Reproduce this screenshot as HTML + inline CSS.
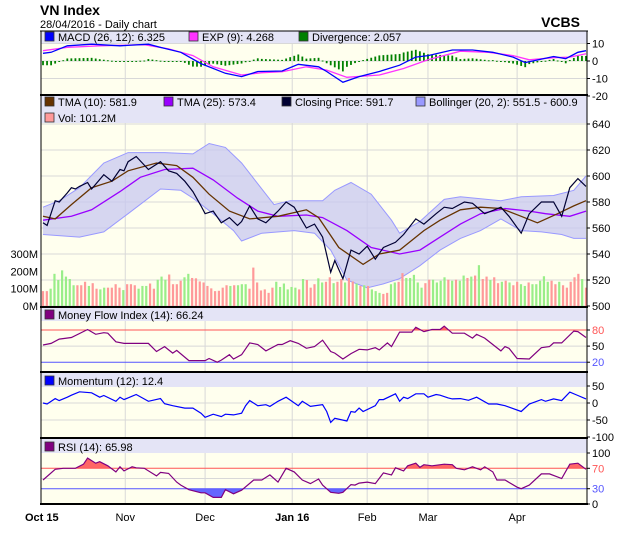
<!DOCTYPE html>
<html><head><meta charset="utf-8">
<style>
body{margin:0;background:#fff;font-family:"Liberation Sans",sans-serif;}
svg text{font-family:"Liberation Sans",sans-serif;}
</style></head>
<body>
<svg id="c" width="620" height="535" xmlns="http://www.w3.org/2000/svg"></svg>
<script>
// ---- data ----
const monthLabels=["Oct 15","Nov","Dec","Jan 16","Feb","Mar","Apr"];
const monthDays=[0,20.3,40,61.5,80,95,117];
const priceTicks=[500,520,540,560,580,600,620,640];
const volTicks=[0,100,200,300];
const macdTicks=[10,0,-10,-20];
const closeDays=[0,1,3,4,6,7,8,9,11,12,15,17,19,20,21,23,26,29,31,33,35,37,39,40,42,44,46,48,49,51,53,55,58,60,62,65,67,69,71,72,74,76,78,80,82,84,87,89,92,94,97,99,101,104,106,109,113,115,118,120,123,126,128,130,132,134];
const closeVals=[564,562,581,580,587,591,590,592,595,590,601,596,605,604,611,615,605,611,604,602,596,588,577,571,573,564,568,562,565,577,567,564,573,580,576,560,563,553,526,535,521,543,540,546,536,545,549,555,567,563,571,576,575,580,579,571,576,569,556,571,580,580,569,591,598,592];
const tma10Days=[0,3,7,12,17,21,28,33,37,41,46,51,58,65,68,73,79,83,88,94,98,103,108,113,118,122,127,131,134];
const tma10Vals=[569,567,578,591,596,604,610,608,599,586,573,567,569,574,568,545,532,540,543,558,566,574,576,575,569,564,571,577,581];
const tma25Days=[0,7,12,19,24,30,37,42,48,53,58,65,69,75,81,88,93,98,103,108,114,120,124,130,134];
const tma25Vals=[566,569,574,588,599,605,606,597,583,573,569,570,568,558,545,540,543,553,563,571,575,573,571,569,573];
const bbUpDays=[0,4,9,15,21,30,37,41,45,49,53,57,61,69,72,76,81,86,88,93,99,103,113,118,126,131,134];
const bbUpVals=[576,581,591,610,618,618,617,625,622,610,594,578,581,581,589,595,586,566,556,565,582,584,581,584,585,589,600];
const bbLoDays=[0,9,15,21,29,34,37,42,47,49,54,62,67,71,75,80,84,88,93,98,103,108,113,118,123,128,131,134];
const bbLoVals=[555,553,557,571,590,589,583,571,558,550,556,558,556,543,520,514,517,521,531,543,552,558,567,558,557,555,552,552];
const volVals=[86,86,100,186,150,206,170,156,120,120,120,140,116,132,100,96,106,106,106,126,106,92,126,126,120,100,116,116,130,100,152,170,152,182,126,126,146,166,186,162,160,142,136,116,102,86,88,106,120,116,120,120,126,126,100,222,136,90,96,76,106,140,110,130,96,110,106,96,156,150,106,126,160,136,140,166,132,140,156,136,162,142,130,116,120,116,96,86,76,70,76,126,136,140,190,162,162,180,136,106,132,152,152,136,146,166,152,146,152,146,176,162,170,176,236,156,170,150,166,132,140,146,136,120,140,126,116,136,126,126,146,172,140,146,126,140,120,106,140,166,186,156,106];
const volUp="rrgggggggrrrgrrggrrrrgrrrgggrrgggrrrrggrrrrrrrrrrgrgggrrrrrrrggggggrgrrrggrrgrrgrrgrgrgggrrggrrgggggrrggggrgrggrgrgrrgrrgrgrrggrgggggrrgrrrrrgrr";
const macdDays=[0,2,6,12,19,26,29,34,39,45,49,53,59,63,68,70,74,78,83,88,92,95,101,106,111,116,119,126,129,132,134];
const macdVals=[4.4,5,8.7,9.6,8.7,9.6,7.8,5,-1.5,-7,-8.9,-6,-5.7,-1.9,-3.3,-6,-12.2,-8.9,-6,-2.4,2.2,3.1,6.3,6.3,5,2.2,-0.9,2.6,1.3,5,5.9];
const sigDays=[0,6,14,25,31,37,42,49,54,59,65,70,75,83,89,95,103,110,116,120,126,130,134];
const sigVals=[5.9,7.8,8.7,9.3,6.9,3.1,-3.3,-8,-6.7,-6.1,-3.3,-5.2,-9.3,-8,-4.3,0.7,5.6,5,3.1,0.7,1.9,2.2,4.1];
const mfiDays=[0,2,4,7,11,13,15,16,18,20,26,28,30,32,33,36,40,41,43,44,46,47,49,51,53,55,58,59,61,63,65,67,69,71,72,74,76,78,80,82,83,85,86,88,91,92,94,96,98,99,101,104,106,107,109,113,114,115,117,120,123,125,126,128,131,132,134];
const mfiVals=[52,55,63,66,81,72,75,74,58,55,55,40,49,37,42,23,23,27,20,24,34,26,34,56,53,41,53,53,60,55,46,49,61,40,37,26,36,44,43,47,43,56,49,76,76,85,77,81,81,87,74,74,65,72,65,41,49,46,27,26,47,49,56,56,78,77,66];
const momDays=[0,1,3,4,6,7,9,12,14,15,18,19,20,22,23,26,29,30,32,35,37,39,40,42,44,45,47,49,50,51,53,55,56,58,60,63,64,66,69,70,71,72,75,76,77,78,79,82,83,84,87,88,89,90,92,94,95,97,98,100,101,103,105,107,110,112,114,118,120,123,124,126,128,130,132,134];
const momVals=[0,-3,13,7,17,23,33,30,17,22,5,17,10,20,25,5,13,-2,-8,-15,-15,-30,-42,-33,-40,-33,-35,-30,-8,7,-8,-5,-10,5,17,-8,5,-10,-5,-25,-57,-45,-53,-25,-27,-15,-25,-8,10,10,27,5,17,13,27,27,17,25,23,15,12,13,8,17,-3,-3,-8,-25,-3,10,5,12,7,32,22,12];
const rsiDays=[0,3,5,8,10,11,13,14,16,18,19,20,22,23,25,28,29,31,33,34,36,39,40,42,44,45,47,49,52,54,56,58,60,62,64,66,68,69,71,73,74,76,77,78,80,82,84,86,87,89,90,92,93,94,96,99,101,102,104,106,108,109,111,112,114,117,118,120,123,125,128,130,132,134];
const rsiVals=[47,68,70,70,78,90,80,83,75,63,73,65,73,71,70,55,62,60,43,37,28,22,22,13,13,28,20,27,47,47,57,43,70,63,47,40,49,37,23,21,23,38,37,41,43,40,61,57,71,65,75,80,72,77,75,78,77,70,67,73,67,73,63,47,47,33,30,37,59,59,50,78,80,68];

// ---- layout ----
const NS="http://www.w3.org/2000/svg";
const svg=document.getElementById('c');
const L=41,R=587;
const FS=11;
const xDay=d=>43+d*543/134;
function mk(tag,attrs,parent){const e=document.createElementNS(NS,tag);for(const k in attrs)e.setAttribute(k,attrs[k]);(parent||svg).appendChild(e);return e;}
function txt(s,x,y,attrs){const t=mk('text',Object.assign({x:x,y:y,'font-size':FS,fill:'#000'},attrs||{}));t.textContent=s;return t;}
function pathOf(days,vals,ys){return days.map((d,i)=>(i?'L':'M')+xDay(d).toFixed(1)+','+ys(vals[i]).toFixed(1)).join('');}

const yMacd=v=>61-v*1.75;
const yPrice=p=>306-(p-500)*1.3;
const yVol=v=>306-v*0.173;
const yMfi=v=>330+(80-v)*0.537;
const yMom=v=>403-v*0.34;
const yRsi=v=>504-v*0.51;

let e;
e=txt("VN Index",40,15,{'font-size':14,'font-weight':'bold'});

e=txt("28/04/2016 - Daily chart",40,28,{'font-size':11});

e=txt("VCBS",580,27,{'font-size':14,'font-weight':'bold','text-anchor':'end'});


const panels=[[31,95,'macd-panel'],[95,307,'price-panel'],[307,372,'mfi-panel'],[372,438,'momentum-panel'],[438,504,'rsi-panel']];
panels.forEach(p=>{e=mk('rect',{x:L,y:p[0],width:R-L,height:p[1]-p[0],fill:'#ffffee'});
});

monthDays.forEach((d,i)=>{if(i===0)return;e=mk('line',{x1:xDay(d),x2:xDay(d),y1:31,y2:504,stroke:'#d8d8d8'});
});

function hgrid(y,col){e=mk('line',{x1:L,x2:R,y1:y,y2:y,stroke:col||'#d8d8d8'});}
macdTicks.forEach(v=>hgrid(yMacd(v)));
priceTicks.forEach(v=>hgrid(yPrice(v)));
hgrid(yMfi(50));
[50,0,-50].forEach(v=>hgrid(yMom(v)));
hgrid(yRsi(50));

const bands=[[31,43],[95,123],[308,321],[373,387],[439,453]];
bands.forEach(b=>{e=mk('rect',{x:L,y:b[0],width:R-L,height:b[1]-b[0],fill:'#e4e4f6'});
});

function legend(x,y,col,label){const g=mk('g',{});
mk('rect',{x:x,y:y-9,width:9,height:9,fill:col,stroke:'#333','stroke-width':0.8},g);
const t=mk('text',{x:x+13,y:y,'font-size':FS,fill:'#000'},g);t.textContent=label;}
legend(45,41,'#0000ff','MACD (26, 12): 6.325');
legend(189,41,'#ff33ff','EXP (9): 4.268');
legend(299,41,'#008000','Divergence: 2.057');
legend(45,106,'#663300','TMA (10): 581.9');
legend(164,106,'#9900ff','TMA (25): 573.4');
legend(282,106,'#000033','Closing Price: 591.7');
legend(416,106,'#9999ff','Bollinger (20, 2): 551.5 - 600.9');
legend(45,122,'#ff9999','Vol: 101.2M');
legend(45,319,'#800080','Money Flow Index (14): 66.24');
legend(45,385,'#0000ff','Momentum (12): 12.4');
legend(45,451,'#800080','RSI (14): 65.98');

const defs=mk('defs',{});
function clip(id,x,y,w,h){const c=mk('clipPath',{id:id},defs);mk('rect',{x:x,y:y,width:w,height:h},c);}
clip('cp',L,123,R-L,184);
clip('cm',L,43,R-L,52);

function interp(days,vals,d){if(d<=days[0])return vals[0];for(let i=1;i<days.length;i++){if(d<=days[i]){const f=(d-days[i-1])/(days[i]-days[i-1]);return vals[i-1]+f*(vals[i]-vals[i-1]);}}return vals[vals.length-1];}
for(let d=0;d<=134;d++){const v=(interp(macdDays,macdVals,d)-interp(sigDays,sigVals,d))*1.6;
const y0=yMacd(0),y1=yMacd(v);
e=mk('rect',{x:xDay(d)-0.9,y:Math.min(y0,y1),width:1.8,height:Math.max(1,Math.abs(y1-y0)),fill:'#008000'});
}
e=mk('path',{d:pathOf(sigDays,sigVals,yMacd),fill:'none',stroke:'#ff33ff','stroke-width':1.3,'clip-path':'url(#cm)'});

e=mk('path',{d:pathOf(macdDays,macdVals,yMacd),fill:'none',stroke:'#0000ff','stroke-width':1.3,'clip-path':'url(#cm)'});


const up=bbUpDays.map((d,i)=>xDay(d).toFixed(1)+','+yPrice(bbUpVals[i]).toFixed(1));
const lo=bbLoDays.map((d,i)=>xDay(d).toFixed(1)+','+yPrice(bbLoVals[i]).toFixed(1)).reverse();
e=mk('polygon',{points:up.concat(lo).join(' '),fill:'#c8c8f0','fill-opacity':0.75,'clip-path':'url(#cp)'});

e=mk('path',{d:pathOf(bbUpDays,bbUpVals,yPrice),fill:'none',stroke:'#9999ff','stroke-width':1});

e=mk('path',{d:pathOf(bbLoDays,bbLoVals,yPrice),fill:'none',stroke:'#9999ff','stroke-width':1});


const nV=volVals.length;
volVals.forEach((v,i)=>{const x=43+i*543/(nV-1);
e=mk('rect',{x:x-1.1,y:yVol(v),width:2.2,height:306-yVol(v),fill:volUp[i]==='g'?'#99ee88':'#ff9999'});
});

e=mk('path',{d:pathOf(tma25Days,tma25Vals,yPrice),fill:'none',stroke:'#9900ff','stroke-width':1.3});

e=mk('path',{d:pathOf(tma10Days,tma10Vals,yPrice),fill:'none',stroke:'#663300','stroke-width':1.3});

e=mk('path',{d:pathOf(closeDays,closeVals,yPrice),fill:'none',stroke:'#000033','stroke-width':1.2});


function thresholdFill(days,vals,ys,th,above,col,name){
  const id='c'+name;const yt=ys(th);
  if(above)clip(id,L,0,R-L,yt);else clip(id,L,yt,R-L,535-yt);
  const pts=days.map((d,i)=>xDay(d).toFixed(1)+','+ys(vals[i]).toFixed(1));
  pts.push(xDay(days[days.length-1]).toFixed(1)+','+yt, xDay(days[0]).toFixed(1)+','+yt);
  e=mk('polygon',{points:pts.join(' '),fill:col,'clip-path':'url(#'+id+')'});
  
}
thresholdFill(mfiDays,mfiVals,yMfi,80,true,'#ff6666','mfi-overbought-fill');
thresholdFill(mfiDays,mfiVals,yMfi,20,false,'#6666ff','mfi-oversold-fill');
thresholdFill(rsiDays,rsiVals,yRsi,70,true,'#ff6666','rsi-overbought-fill');
thresholdFill(rsiDays,rsiVals,yRsi,30,false,'#6666ff','rsi-oversold-fill');

function tline(y,col,name){e=mk('line',{x1:L,x2:R,y1:y,y2:y,stroke:col,'stroke-width':1});}
tline(yMfi(80),'#ff5555','mfi-80-line');tline(yMfi(20),'#5555ff','mfi-20-line');
tline(yRsi(70),'#ff5555','rsi-70-line');tline(yRsi(30),'#5555ff','rsi-30-line');

e=mk('path',{d:pathOf(mfiDays,mfiVals,yMfi),fill:'none',stroke:'#800080','stroke-width':1.2});

e=mk('path',{d:pathOf(momDays,momVals,yMom),fill:'none',stroke:'#0000ff','stroke-width':1.2});

e=mk('path',{d:pathOf(rsiDays,rsiVals,yRsi),fill:'none',stroke:'#800080','stroke-width':1.2});


[31,95,307,372,438,504].forEach((y,i)=>{e=mk('line',{x1:L-1,x2:R+1,y1:y,y2:y,stroke:'#000','stroke-width':(i===0?1:2)});
});
e=mk('line',{x1:L,x2:L,y1:31,y2:505,stroke:'#000','stroke-width':1});
e=mk('line',{x1:R,x2:R,y1:31,y2:505,stroke:'#000','stroke-width':1});

function ytick(v,y,col){e=mk('line',{x1:R,x2:R+3,y1:y,y2:y,stroke:'#000'});
e=txt(String(v),R+5,y+4,{fill:col||'#000'});}
macdTicks.forEach(v=>ytick(v,yMacd(v)));
priceTicks.forEach(v=>ytick(v,yPrice(v)));
ytick(80,yMfi(80),'#ff5555');ytick(50,yMfi(50));ytick(20,yMfi(20),'#5555ff');
[50,0,-50,-100].forEach(v=>ytick(v,yMom(v)));
ytick(100,yRsi(100));ytick(70,yRsi(70),'#ff5555');ytick(30,yRsi(30),'#5555ff');ytick(0,yRsi(0));
volTicks.forEach(v=>{e=txt(v+'M',38,yVol(v)+4,{'text-anchor':'end'});});

monthLabels.forEach((s,i)=>{const bold=(i===0||i===3);
e=txt(s,xDay(monthDays[i])+(i===0?-18:0),521,{'text-anchor':i===0?'start':'middle','font-weight':bold?'bold':'normal'});
});
</script>
</body></html>
